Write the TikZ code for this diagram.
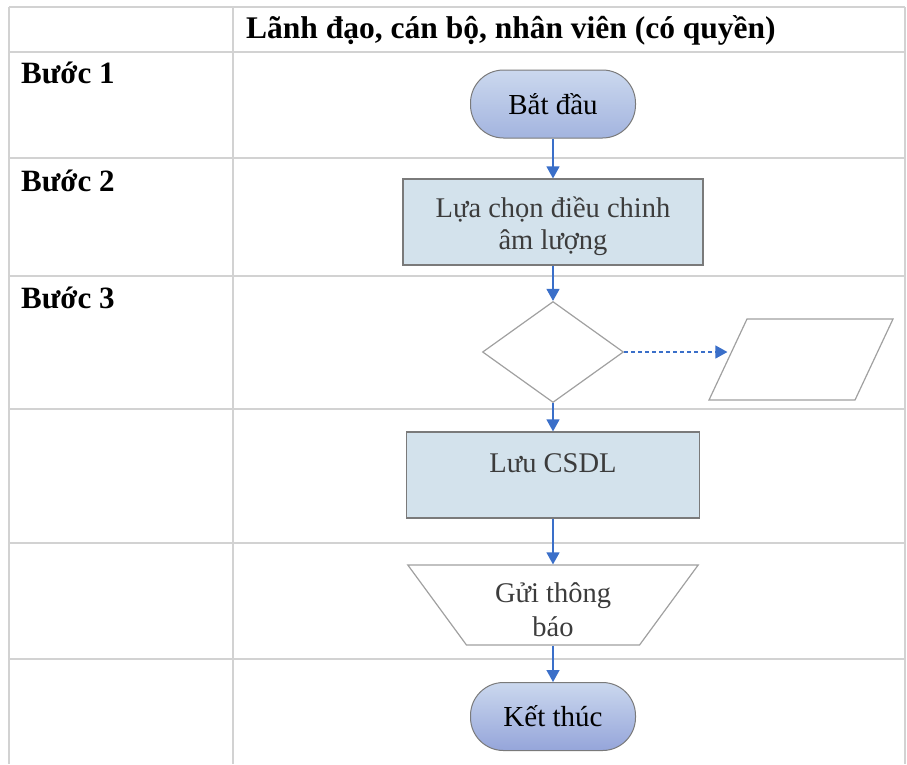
\documentclass[tikz,border=0pt]{standalone}
\usepackage{fontspec}
\setmainfont{Liberation Serif}
\usetikzlibrary{shapes.geometric,arrows.meta}
\definecolor{gridline}{HTML}{D2D2D2}
\definecolor{arrowblue}{HTML}{3A6FC9}
\definecolor{boxfill}{HTML}{D3E2EC}
\definecolor{boxline}{HTML}{7A7A7A}
\definecolor{shapeline}{HTML}{A0A0A0}
\definecolor{textgray}{HTML}{3C3C3C}
\definecolor{termtop}{HTML}{CBD8EE}
\definecolor{termbot}{HTML}{A3B4DF}
\definecolor{termbot2}{HTML}{95A5DA}
\tikzset{
  gridrule/.style={draw=gridline, line width=1.8pt},
  headtext/.style={font=\fontsize{31.5}{36}\selectfont\bfseries, anchor=base west, inner sep=0pt},
  steptext/.style={font=\fontsize{31}{36}\selectfont\bfseries, anchor=base west, inner sep=0pt},
  termbox/.style={draw=boxline, line width=1pt, rounded corners=33pt, minimum width=165pt, minimum height=68pt, inner sep=0pt, font=\fontsize{29}{33}\selectfont, top color=termtop, bottom color=termbot},
  procbox/.style={draw=boxline, line width=1.2pt, fill=boxfill, minimum width=300pt, minimum height=86pt, inner sep=0pt, align=center, text=textgray, font=\fontsize{28.5}{32}\selectfont},
  decbox/.style={diamond, draw=shapeline, line width=1.2pt, minimum width=141pt, minimum height=101pt, inner sep=0pt},
  iobox/.style={rectangle, xslant=0.469, draw=shapeline, line width=1.2pt, minimum width=146pt, minimum height=81pt, inner sep=0pt},
  outbox/.style={trapezium, trapezium stretches=true, trapezium angle=54, shape border rotate=180, draw=shapeline, line width=1.2pt, minimum width=291pt, minimum height=80pt, inner sep=0pt, align=center, text=textgray, font=\fontsize{28.5}{34}\selectfont},
  flow/.style={draw=arrowblue, line width=1.3pt, -{Triangle[width=13pt,length=12pt]}},
  dashflow/.style={flow, dash pattern=on 4pt off 3pt}
}
\begin{document}
\begin{tikzpicture}[x=1pt,y=-1pt]
\useasboundingbox (0,0) rectangle (907,764);
% table grid
\draw[gridrule] (9,7) -- (905,7);
\foreach \yy in {52,158,276,409,543,659} \draw[gridrule] (9,\yy) -- (905,\yy);
\foreach \xx in {9,233,905} \draw[gridrule] (\xx,7) -- (\xx,764);
% texts
\node[headtext] (head) at (246,38) {Lãnh đạo, cán bộ, nhân viên (có quyền)};
\node[steptext] (s1) at (21,83) {Bước 1};
\node[steptext] (s2) at (21,191) {Bước 2};
\node[steptext] (s3) at (21,308) {Bước 3};
% flow nodes
\node[termbox] (start) at (553,104) {Bắt đầu};
\node[procbox] (sel) at (553,222) {\raisebox{-4pt}[\height][\depth]{Lựa chọn điều chinh}\\\raisebox{-4pt}[\height][\depth]{âm lượng}};
\node[decbox] (dec) at (553,352) {};
\node[iobox] (io) at (801,359.5) {};
\node[procbox, minimum width=293pt] (save) at (553,475) {\raisebox{12pt}[\height][\depth]{Lưu CSDL}};
\node[outbox] (send) at (553,605) {\raisebox{-5pt}[\height][\depth]{Gửi thông}\\\raisebox{-5pt}[\height][\depth]{báo}};
\node[termbox, bottom color=termbot2] (end) at (553,716.5) {Kết thúc};
% connectors
\draw[flow] (start) -- (sel);
\draw[flow] (sel) -- (dec);
\draw[dashflow] (dec.east) -- (dec.east -| io.west);
\draw[flow] (dec) -- (save);
\draw[flow] (save) -- (send);
\draw[flow] (send) -- (end);
\end{tikzpicture}
\end{document}
